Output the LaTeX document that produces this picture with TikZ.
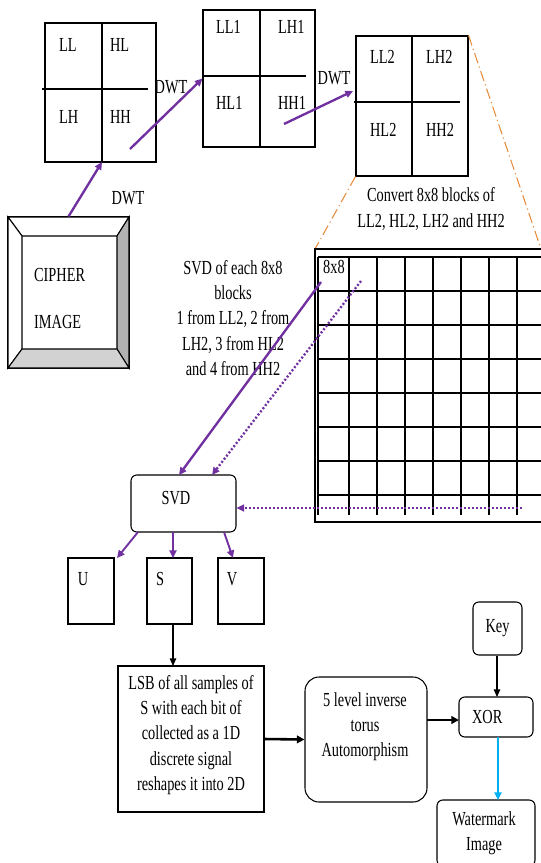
\documentclass[tikz,border=0pt]{standalone}
\usepackage{fontspec}
\setmainfont[FakeStretch=0.72]{Liberation Serif}
\usepackage{tkz-euclide}
\usetikzlibrary{arrows.meta}
\definecolor{wmpurple}{RGB}{112,48,160}
\definecolor{wmblue}{RGB}{0,176,240}
\definecolor{wmorange}{RGB}{230,140,60}

\begin{document}
\begin{tikzpicture}[x=0.03cm,y=-0.03cm,
            font=\fontsize{17}{21.5}\selectfont,
            box/.style={draw,line width=0.9pt,inner sep=0pt},
            rbox/.style={box,rounded corners=5pt},
            grd/.style={line width=0.9pt},
            parr/.style={wmpurple,line width=2pt,-{Triangle[length=6.5pt,width=6pt]}},
            darr/.style={parr,line width=2pt,dash pattern=on 1.7pt off 1.7pt},
            barr/.style={black,line width=1.1pt,-{Triangle[length=6.5pt,width=5.5pt]}},
            dbl/.style={black,line width=2.2pt,-{Triangle[length=6.5pt,width=6.5pt]}},
            orng/.style={wmorange,line width=0.9pt,dash pattern=on 9pt off 3pt on 1pt off 3pt}]
            \useasboundingbox (0,0) rectangle (541,863);
            % three DWT levels
            \node[box,minimum width=3.33cm,minimum height=4.17cm] (dwtA) at (100.5,92.5) {};
            \draw[grd] (42,89) -- (148,89) (102,23) -- (102,162);
            \node[anchor=west] (ll) at (55,45) {LL};
            \node[anchor=west] (hl) at (106,45) {HL};
            \node[anchor=west] (lh) at (55,117) {LH};
            \node[anchor=west] (hh) at (106,117) {HH};
            \node[box,minimum width=3.36cm,minimum height=4.11cm] (dwtB) at (259,78.5) {};
            \draw[grd] (203,76) -- (306,76) (260,10) -- (260,147);
            \node[anchor=west] (llA) at (212,27) {LL1};
            \node[anchor=west] (lhA) at (274,27) {LH1};
            \node[anchor=west] (hlA) at (212,103) {HL1};
            \node[anchor=west] (hhA) at (274,103) {HH1};
            \node[box,minimum width=3.36cm,minimum height=4.2cm] (dwtC) at (412,106) {};
            \draw[grd] (354,102) -- (460,102) (412,36) -- (412,176);
            \node[anchor=west] (llB) at (366,57) {LL2};
            \node[anchor=west] (lhB) at (422,57) {LH2};
            \node[anchor=west] (hlB) at (366,130) {HL2};
            \node[anchor=west] (hhB) at (422,130) {HH2};
            \node (dwtlA) at (128,198) {DWT};
            \node (dwtlB) at (171,87) {DWT};
            \node (dwtlC) at (334,78) {DWT};
            \node[align=center] (conv) at (431,209) {Convert 8x8 blocks of\\LL2, HL2, LH2 and HH2};
            % cipher image
            \node[box,minimum width=3.63cm,minimum height=4.53cm] (cipher) at (68.5,292.5) {};
            \fill[white,draw=black,line width=0.9pt] (8,217) -- (129,217) -- (117,236) -- (22,236) -- cycle;
            \fill[white,draw=black,line width=0.9pt] (8,217) -- (22,236) -- (22,349) -- (8,368) -- cycle;
            \fill[gray!60,draw=black,line width=0.9pt] (129,217) -- (129,368) -- (117,349) -- (117,236) -- cycle;
            \fill[gray!35,draw=black,line width=0.9pt] (8,368) -- (129,368) -- (117,349) -- (22,349) -- cycle;
            \node[anchor=west] (ciph) at (30,275) {CIPHER};
            \node[anchor=west] (imag) at (30,322) {IMAGE};
            \tkzDefPoint(102,162){A}
            \tkzDefPoint(130,149){B}
            \tkzDefPoint(284,124){C}
            \tkzDefPoint(353,91){D}
            \draw[parr] (cipher.north) -- (A);
            \draw[parr] (B) -- (dwtB.west);
            \draw[parr] (C) -- (D);
            % block grid
            \tkzDefPoint(315,249){G}
            \draw[orng] (dwtC.south west) -- (G);
            \draw[orng] (dwtC.north east) -- (541,249);
            \draw[grd] (541,249) -- (G) -- (315,522) -- (541,522);
            \foreach \x in {318,349,377,405,433,461,489,517}
                \draw[grd] (\x,257) -- (\x,515);
            \foreach \y in {257,291,325,359,393,427,461,495}
                \draw[grd] (318,\y) -- (541,\y);
            \node (cell) at (334,267) {8x8};
            \node[align=center] (svdtxt) at (233,318) {SVD of each 8x8\\blocks\\1 from LL2, 2 from\\LH2, 3 from HL2\\and 4 from HH2};
            % SVD and the rest
            \node[rbox,minimum width=3.15cm,minimum height=1.71cm] (svd) at (183.5,503.5) {};
            \node (svdl) at (176,498) {SVD};
            \tkzDefPoint(321,282){P}
            \tkzDefPoint(361,281){Q}
            \tkzDefPoint(522,508){R}
            \tkzDefPoint(179,475){P'}
            \tkzDefPoint(212,475){Q'}
            \draw[parr] (P) -- (P');
            \draw[darr] (Q) -- (Q');
            \draw[darr] (R) -- (R -| svd.east);
            \node[box,minimum width=1.38cm,minimum height=1.98cm] (u) at (91,591) {};
            \node[box,minimum width=1.35cm,minimum height=1.98cm] (s) at (169.5,591) {};
            \node[box,minimum width=1.38cm,minimum height=1.98cm] (v) at (241,591) {};
            \node (ul) at (83,579) {U};
            \node (sl) at (160,579) {S};
            \node (vl) at (232,579) {V};
            \draw[parr,line width=1.6pt] (138,532) -- (117,558);
            \draw[parr,line width=1.6pt] (173,532) -- (173,558);
            \draw[parr,line width=1.6pt] (224,532) -- (233,558);
            \node[box,minimum width=4.38cm,minimum height=4.38cm] (lsb) at (191,739) {};
            \node[align=center] (lsbl) at (191,735) {LSB of all samples of\\S with each bit of\\collected as a 1D\\discrete signal\\reshapes it into 2D};
            \draw[barr] (173,624) -- (173,666);
            \node[rbox,rounded corners=12pt,minimum width=3.66cm,minimum height=3.75cm] (torus) at (366,739.5) {};
            \node[align=center] (torusl) at (365,727) {5 level inverse\\torus\\Automorphism};
            \draw[dbl] (lsb.east) -- (torus.west);
            \node[rbox,minimum width=2.22cm,minimum height=1.2cm] (xor) at (496,717) {};
            \node[anchor=west] (xorl) at (468,717) {XOR};
            \draw[dbl] (427,720) -- (459,720);
            \node[rbox,minimum width=1.47cm,minimum height=1.59cm] (key) at (497.5,628.5) {Key};
            \draw[barr] (key.south -| 497,0) -- (497,697);
            \node[rbox,minimum width=2.94cm,minimum height=1.98cm] (wm) at (486,833) {};
            \node[align=center] (wml) at (484,833) {Watermark\\Image};
            \draw[wmblue,line width=2.2pt,-{Triangle[length=6.5pt,width=6pt]}] (498,737) -- (498,800);
        \end{tikzpicture}
\end{document}
